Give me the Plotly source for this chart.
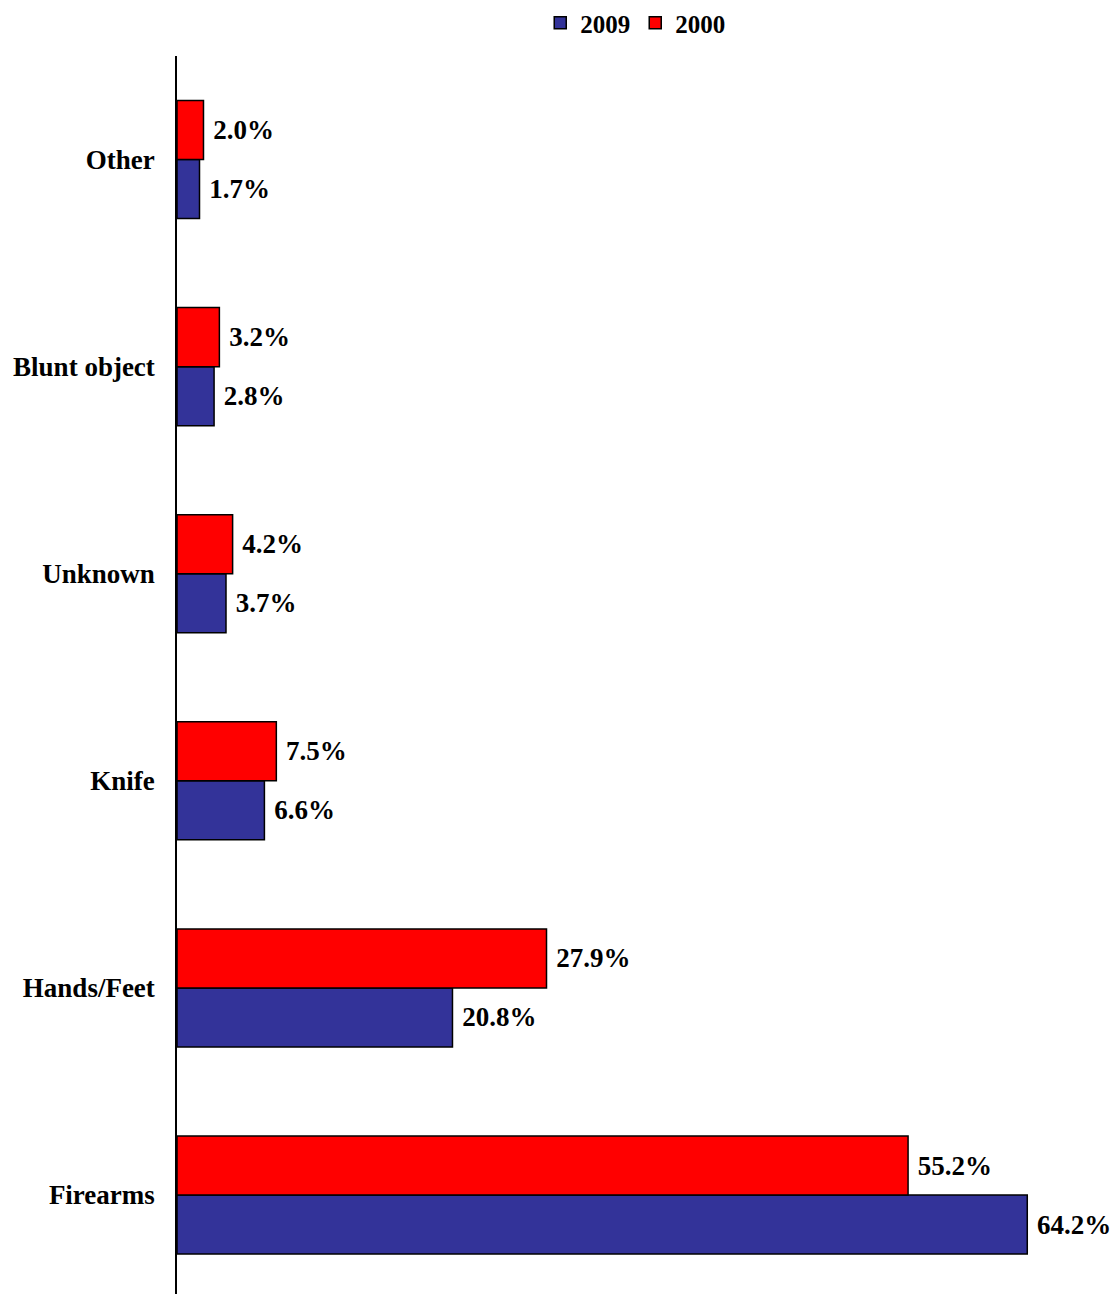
import plotly.graph_objects as go

# Homicide weapon shares, bottom to top on the chart
categories = ["Firearms", "Hands/Feet", "Knife", "Unknown", "Blunt object", "Other"]
share_2009 = [64.2, 20.8, 6.6, 3.7, 2.8, 1.7]
share_2000 = [55.2, 27.9, 7.5, 4.2, 3.2, 2.0]

FONT = "Liberation Serif"
label_font = dict(family=FONT, size=27, color="black", weight="bold")

fig = go.Figure()
fig.add_trace(go.Bar(
    name="2009", y=categories, x=share_2009, orientation="h",
    marker=dict(color="#333399", line=dict(color="black", width=1.5)),
    texttemplate=" %{x:.1f}%", textposition="outside",
    outsidetextfont=label_font, cliponaxis=False,
))
fig.add_trace(go.Bar(
    name="2000", y=categories, x=share_2000, orientation="h",
    marker=dict(color="#FF0000", line=dict(color="black", width=1.5)),
    texttemplate=" %{x:.1f}%", textposition="outside",
    outsidetextfont=label_font, cliponaxis=False,
))

fig.update_layout(
    width=1116, height=1294,
    margin=dict(l=177, r=0, t=56, b=0),
    paper_bgcolor="white", plot_bgcolor="white",
    barmode="group", bargap=0.43, bargroupgap=0,
    font=dict(family=FONT, color="black"),
    showlegend=True,
    legend=dict(
        orientation="h", x=0.488, y=1.0, xref="paper", yref="container",
        xanchor="center", yanchor="top",
        font=dict(family=FONT, size=25, color="black", weight="bold"),
        itemwidth=30, traceorder="normal",
    ),
    xaxis=dict(range=[0, 70.9], visible=False, fixedrange=True),
    yaxis=dict(
        type="category", categoryorder="array", categoryarray=categories,
        range=[-0.478, 5.5],
        showline=True, linecolor="black", linewidth=1.5,
        showgrid=False, zeroline=False, ticks="",
        ticklabelstandoff=15,
        tickfont=dict(family=FONT, size=27, color="black", weight="bold"),
    ),
)

fig.write_html("out.html")
